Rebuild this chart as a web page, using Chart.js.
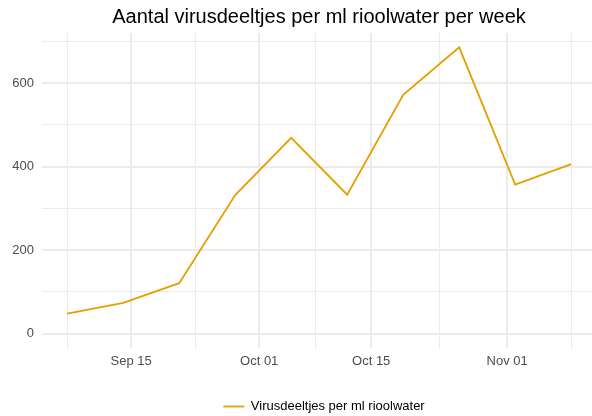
<!DOCTYPE html>
<html>
<head>
<meta charset="utf-8">
<script src="https://cdn.jsdelivr.net/npm/chart.js@4/dist/chart.umd.min.js"></script>
<style>
  html, body { margin: 0; padding: 0; background: #fff; }
  #wrap { width: 592px; height: 416px; }
</style>
</head>
<body>
<div id="wrap"><canvas id="chart"></canvas></div>
<script>
// weekly samples
const weekDates = ['2020-09-07', '2020-09-14', '2020-09-21', '2020-09-28', '2020-10-05',
  '2020-10-12', '2020-10-19', '2020-10-26', '2020-11-02', '2020-11-09'];
const virusCounts = [48, 74, 121, 332, 469, 333, 572, 686, 357, 406];

const xMajorDates = ['2020-09-15', '2020-10-01', '2020-10-15', '2020-11-01'];
const xMajorLabels = ['Sep 15', 'Oct 01', 'Oct 15', 'Nov 01'];
const xMinorDates = ['2020-09-07', '2020-09-23', '2020-10-08', '2020-10-23T12:00:00Z', '2020-11-09'];
const yMajorTicks = [0, 200, 400, 600];
const yMinorTicks = [100, 300, 500, 700];

const seriesLabel = 'Virusdeeltjes per ml rioolwater';
const titleText = 'Aantal virusdeeltjes per ml rioolwater per week';

// day number counted from Sep 1
const origin = Date.UTC(2020, 8, 1);
const toDay = (s) => (Date.parse(s.length > 10 ? s : s + 'T00:00:00Z') - origin) / 86400000;

const points = weekDates.map((d, i) => ({ x: toDay(d), y: virusCounts[i] }));
const majorDays = xMajorDates.map(toDay);
const xTicks = [...majorDays, ...xMinorDates.map(toDay)].sort((a, b) => a - b);
const yTicks = [...yMajorTicks, ...yMinorTicks].sort((a, b) => a - b);

const font = 'Liberation Sans, Arial, Helvetica, sans-serif';
const gridColor = '#EBEBEB';

// ggplot centres title and legend on the panel, not the canvas
const centerOnPanel = {
  id: 'centerOnPanel',
  afterLayout(chart) {
    chart.titleBlock.left = 46;
    chart.legend.left = 56;
    chart.legend.top += 7;
  },
};

new Chart(document.getElementById('chart'), {
  type: 'line',
  data: {
    datasets: [{
      label: seriesLabel,
      data: points,
      borderColor: '#E69F00',
      backgroundColor: '#E69F00',
      borderWidth: 1.8,
      pointRadius: 0,
      tension: 0,
    }],
  },
  options: {
    responsive: true,
    maintainAspectRatio: false,
    animation: false,
    layout: { padding: 0 },
    plugins: {
      title: {
        display: true,
        text: titleText,
        color: '#000',
        font: { family: font, size: 20, weight: 'normal' },
        padding: { top: 5, bottom: 4 },
      },
      legend: {
        position: 'bottom',
        labels: {
          color: '#000',
          font: { family: font, size: 13 },
          usePointStyle: true,
          pointStyle: 'line',
          pointStyleWidth: 21,
          padding: 8,
        },
      },
      tooltip: { enabled: false },
    },
    scales: {
      x: {
        type: 'linear',
        min: 2.85,
        max: 71.6,
        afterBuildTicks: (scale) => { scale.ticks = xTicks.map((v) => ({ value: v })); },
        afterFit: (scale) => { scale.height = 37; },
        ticks: {
          autoSkip: false,
          maxRotation: 0,
          color: '#4D4D4D',
          font: { family: font, size: 13 },
          padding: 6,
          callback: (v) => {
            const i = majorDays.indexOf(v);
            return i >= 0 ? xMajorLabels[i] : '';
          },
        },
        grid: {
          drawTicks: false,
          color: gridColor,
          lineWidth: (ctx) => (ctx.tick && majorDays.includes(ctx.tick.value) ? 2 : 1),
        },
        border: { display: false },
      },
      y: {
        min: -34.3,
        max: 720.3,
        afterBuildTicks: (scale) => { scale.ticks = yTicks.map((v) => ({ value: v })); },
        afterFit: (scale) => { scale.width = 42; },
        ticks: {
          color: '#4D4D4D',
          font: { family: font, size: 13 },
          padding: 8,
          callback: (v) => (yMajorTicks.includes(v) ? String(v) : ''),
        },
        grid: {
          drawTicks: false,
          color: gridColor,
          lineWidth: (ctx) => (ctx.tick && yMajorTicks.includes(ctx.tick.value) ? 2 : 1),
        },
        border: { display: false },
      },
    },
  },
  plugins: [centerOnPanel],
});
</script>
</body>
</html>
